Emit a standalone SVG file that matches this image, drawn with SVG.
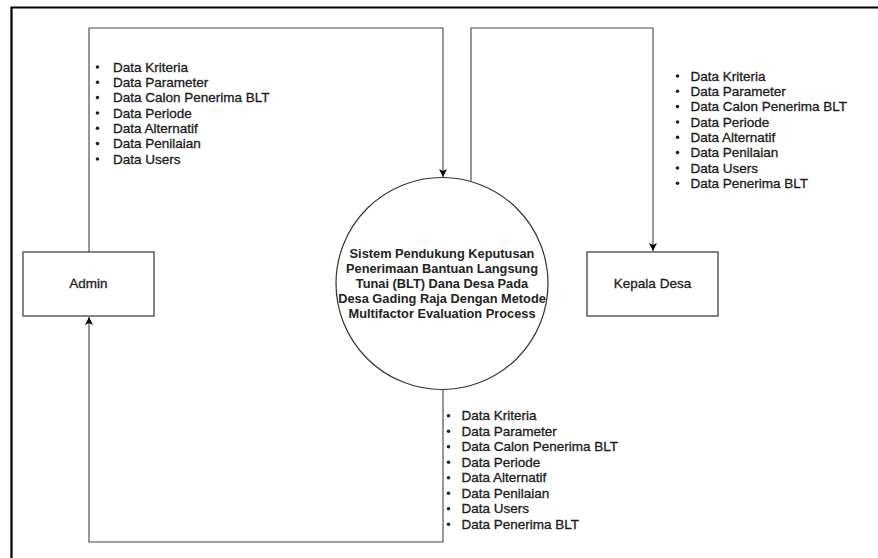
<svg xmlns="http://www.w3.org/2000/svg" width="878" height="558" viewBox="0 0 878 558">
<style>
  .frame{fill:none;stroke:#000;stroke-width:2.2}
  .box{fill:#fff;stroke:#333;stroke-width:1.2}
  .conn{fill:none;stroke:#444;stroke-width:1.1}
  .lbl{font-family:"Liberation Sans",Arial,sans-serif;font-size:13.5px;fill:#1a1a1a;stroke:#1a1a1a;stroke-width:0.3}
  .title{font-family:"Liberation Sans",Arial,sans-serif;font-size:12.8px;font-weight:bold;fill:#222;text-anchor:middle}
  .name{font-family:"Liberation Sans",Arial,sans-serif;font-size:13.5px;fill:#1a1a1a;stroke:#1a1a1a;stroke-width:0.3;text-anchor:middle}
  .dot{fill:#222}
</style>
<defs>
  <marker id="arr" markerWidth="10" markerHeight="10" refX="8" refY="4" orient="auto" markerUnits="userSpaceOnUse">
    <path d="M0,0 L8,4 L0,8 L2,4 Z" fill="#000"/>
  </marker>
</defs>
<rect width="878" height="558" fill="#fff"/>
<path class="frame" d="M11.5,558 V7.5 H878"/>

<g id="connectors">
  <path class="conn" d="M89,252 V28 H443 V177" marker-end="url(#arr)"/>
  <path class="conn" d="M471,181 V28 H653 V251" marker-end="url(#arr)"/>
  <path class="conn" d="M443,389 V542 H89 V317" marker-end="url(#arr)"/>
</g>

<g id="list-admin-to-system">
  <g class="dot">
    <circle cx="97.5" cy="67" r="1.8"/><circle cx="97.5" cy="82.3" r="1.8"/><circle cx="97.5" cy="97.6" r="1.8"/><circle cx="97.5" cy="113" r="1.8"/><circle cx="97.5" cy="128.3" r="1.8"/><circle cx="97.5" cy="143.6" r="1.8"/><circle cx="97.5" cy="159" r="1.8"/>
  </g>
  <text class="lbl" x="113" y="71.7">Data Kriteria</text>
  <text class="lbl" x="113" y="87">Data Parameter</text>
  <text class="lbl" x="113" y="102.3">Data Calon Penerima BLT</text>
  <text class="lbl" x="113" y="117.7">Data Periode</text>
  <text class="lbl" x="113" y="133">Data Alternatif</text>
  <text class="lbl" x="113" y="148.3">Data Penilaian</text>
  <text class="lbl" x="113" y="163.7">Data Users</text>
</g>

<g id="list-system-to-kepala">
  <g class="dot">
    <circle cx="677.5" cy="76" r="1.8"/><circle cx="677.5" cy="91.3" r="1.8"/><circle cx="677.5" cy="106.6" r="1.8"/><circle cx="677.5" cy="122" r="1.8"/><circle cx="677.5" cy="137.3" r="1.8"/><circle cx="677.5" cy="152.6" r="1.8"/><circle cx="677.5" cy="168" r="1.8"/><circle cx="677.5" cy="183.3" r="1.8"/>
  </g>
  <text class="lbl" x="690.5" y="80.7">Data Kriteria</text>
  <text class="lbl" x="690.5" y="96">Data Parameter</text>
  <text class="lbl" x="690.5" y="111.3">Data Calon Penerima BLT</text>
  <text class="lbl" x="690.5" y="126.7">Data Periode</text>
  <text class="lbl" x="690.5" y="142">Data Alternatif</text>
  <text class="lbl" x="690.5" y="157.3">Data Penilaian</text>
  <text class="lbl" x="690.5" y="172.7">Data Users</text>
  <text class="lbl" x="690.5" y="188">Data Penerima BLT</text>
</g>

<g id="list-system-to-admin">
  <g class="dot">
    <circle cx="448.5" cy="415.7" r="1.8"/><circle cx="448.5" cy="431.2" r="1.8"/><circle cx="448.5" cy="446.7" r="1.8"/><circle cx="448.5" cy="462.2" r="1.8"/><circle cx="448.5" cy="477.7" r="1.8"/><circle cx="448.5" cy="493.2" r="1.8"/><circle cx="448.5" cy="508.7" r="1.8"/><circle cx="448.5" cy="524.2" r="1.8"/>
  </g>
  <text class="lbl" x="461.5" y="420.4">Data Kriteria</text>
  <text class="lbl" x="461.5" y="435.9">Data Parameter</text>
  <text class="lbl" x="461.5" y="451.4">Data Calon Penerima BLT</text>
  <text class="lbl" x="461.5" y="466.9">Data Periode</text>
  <text class="lbl" x="461.5" y="482.4">Data Alternatif</text>
  <text class="lbl" x="461.5" y="497.9">Data Penilaian</text>
  <text class="lbl" x="461.5" y="513.4">Data Users</text>
  <text class="lbl" x="461.5" y="528.9">Data Penerima BLT</text>
</g>

<g id="admin">
  <rect class="box" x="23" y="252" width="131" height="64"/>
  <text class="name" x="88.5" y="287.5">Admin</text>
</g>

<g id="kepala-desa">
  <rect class="box" x="587" y="252" width="131" height="64"/>
  <text class="name" x="652.5" y="288">Kepala Desa</text>
</g>

<g id="sistem">
  <circle class="box" cx="442" cy="283.5" r="106"/>
  <text class="title" x="442" y="258">Sistem Pendukung Keputusan</text>
  <text class="title" x="442" y="273">Penerimaan Bantuan Langsung</text>
  <text class="title" x="442" y="288">Tunai (BLT) Dana Desa Pada</text>
  <text class="title" x="442" y="303">Desa Gading Raja Dengan Metode</text>
  <text class="title" x="442" y="318">Multifactor Evaluation Process</text>
</g>
</svg>
